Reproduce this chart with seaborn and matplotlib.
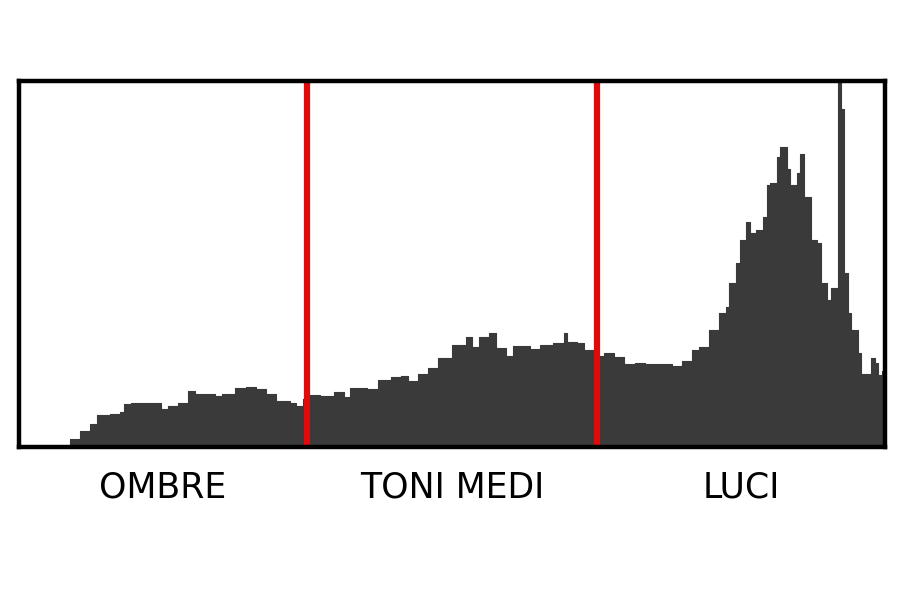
import numpy as np
import seaborn as sns
import matplotlib.pyplot as plt

# istogramma tonale: posizione (0-255) e conteggio relativo
bins = [0, 12, 15, 18, 21, 23, 27, 30, 31, 33, 36, 39, 42, 44, 47, 50, 52, 58, 60, 64,
        67, 70, 73, 76, 80, 82, 84, 86, 89, 93, 96, 98, 103, 106, 110, 113, 115, 118, 121, 124,
        128, 132, 134, 136, 139, 141, 144, 146, 151, 154, 158, 161, 162, 165, 167, 170, 173, 176, 179, 182,
        185, 189, 193, 196, 199, 201, 204, 207, 209, 210, 212, 213, 215, 216, 218, 220, 221, 222, 224, 225,
        227, 228, 230, 231, 232, 234, 236, 237, 239, 240, 242, 243, 244, 245, 246, 248, 249, 251, 252, 253,
        254, 255, 256]
counts = [0, 1, 8, 16, 23, 32, 33, 35, 43, 44, 44, 44, 38, 41, 44, 56, 53, 51, 53, 59,
          60, 58, 53, 46, 44, 41, 48, 52, 51, 55, 50, 59, 58, 67, 70, 71, 66, 73, 79, 89,
          101, 109, 99, 109, 113, 98, 91, 100, 97, 101, 103, 113, 104, 103, 96, 91, 93, 90, 83, 84,
          83, 83, 81, 86, 96, 99, 116, 133, 139, 163, 183, 206, 224, 213, 216, 229, 261, 263, 288, 298,
          276, 261, 273, 291, 249, 206, 203, 163, 146, 158, 380, 336, 173, 133, 116, 93, 73, 73, 89, 84,
          72, 76, 76]

zone_limits = [85, 171]
zone_labels = ["OMBRE", "TONI MEDI", "LUCI"]

sns.set_style("white")
plt.rcParams['font.family'] = ['DejaVu Sans']

fig = plt.figure(figsize=(9, 6), dpi=100)
ax = fig.add_axes([0.0211, 0.255, 0.9622, 0.61])

ax.fill_between(bins, counts, step="post", color="#3a3a3a", linewidth=0)
sns.lineplot(x=bins, y=counts, drawstyle="steps-post", color="#3a3a3a", linewidth=0.8, ax=ax)

for lim in zone_limits:
    ax.axvline(lim, color="#e10a0a", linewidth=4.5, zorder=3)

edges = [0] + zone_limits + [256]
for i, lab in enumerate(zone_labels):
    ax.text((edges[i] + edges[i + 1]) / 2, -0.11, lab, transform=ax.get_xaxis_transform(),
            ha="center", va="center", fontsize=25, color="black")

ax.set_xlim(0, 256)
ax.set_ylim(0, 364)
ax.set_xticks([])
ax.set_yticks([])
for s in ax.spines.values():
    s.set_visible(True)
    s.set_color("black")
    s.set_linewidth(3.2)
    s.set_zorder(4)

plt.savefig("out.png", dpi=100)
plt.close(fig)
